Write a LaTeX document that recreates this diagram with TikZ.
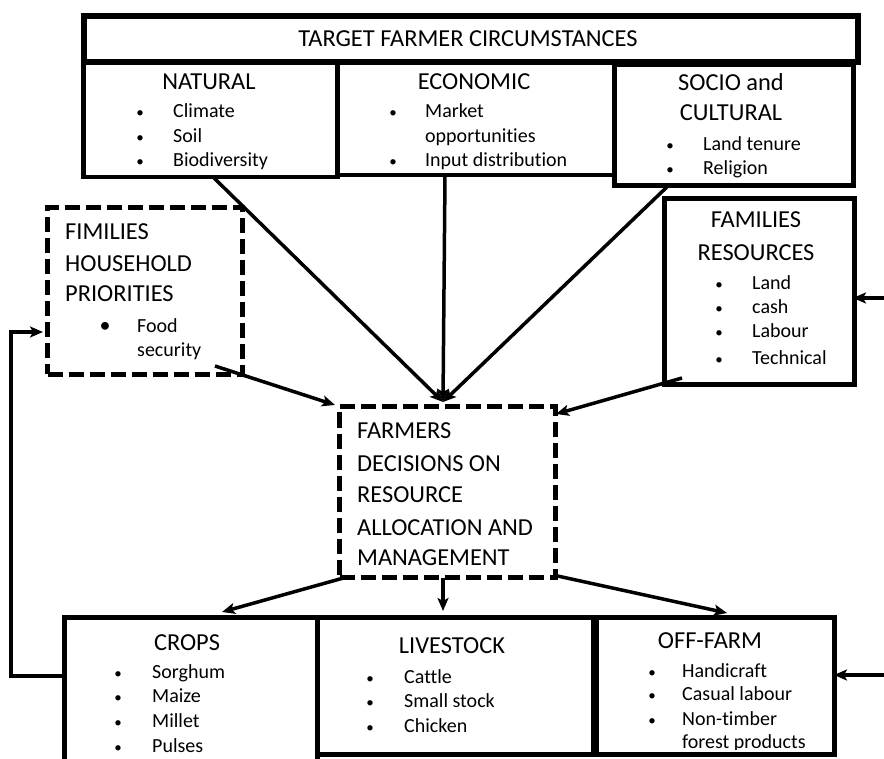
\documentclass[tikz,border=0pt]{standalone}
\usepackage{fontspec}
\setmainfont{Carlito}[Ligatures=NoCommon]
\usetikzlibrary{arrows.meta}
\newcommand\headfont{\fontsize{24.4}{28}\selectfont}
\newcommand\bodyfont{\fontsize{20}{24}\selectfont}
\tikzset{
  solidbox/.style={draw, line width=4.5pt, inner sep=0pt, anchor=north west},
  dashbox/.style={draw, line width=5pt, dash pattern=on 15pt off 6pt, inner sep=0pt, anchor=north west},
  conn/.style={line width=3.5pt, -{Stealth[length=13pt,width=11pt,inset=3pt]}},
  hd/.style={font=\headfont, inner sep=0pt, anchor=base},
  hdl/.style={font=\headfont, inner sep=0pt, anchor=base west},
  itm/.style={font=\bodyfont, inner sep=0pt, anchor=base west},
  bul/.style={font=\fontsize{15}{18}\selectfont, inner sep=0pt, anchor=base},
}
\begin{document}
\begin{tikzpicture}[x=1pt,y=-1pt]
\useasboundingbox (0,0) rectangle (884,759);

% ---------- texts ----------
\node[hd] (tTitle) at (468,47) {TARGET FARMER CIRCUMSTANCES};

\begin{scope}
\clip (83,61) rectangle (333,172.8);
\node[hd] (tNat) at (209,90) {NATURAL};
\node[bul] (bN1) at (140,118) {\textbullet};
\node[itm] (iN1) at (173,118) {Climate};
\node[bul] (bN2) at (140,142.5) {\textbullet};
\node[itm] (iN2) at (173,142.5) {Soil};
\node[bul] (bN3) at (140,167) {\textbullet};
\node[itm] (iN3) at (173,167) {Biodiversity};
\end{scope}

\node[hd] (tEco) at (474,90) {ECONOMIC};
\node[bul] (bE1) at (393,118) {\textbullet};
\node[itm] (iE1) at (425,118) {Market};
\node[itm] (iE1b) at (425,142.5) {opportunities};
\node[bul] (bE2) at (393,167) {\textbullet};
\node[itm] (iE2) at (425,167) {Input distribution};

\begin{scope}
\clip (614,64) rectangle (849,180.5);
\node[hd] (tSoc) at (731,91) {SOCIO and};
\node[hd] (tSoc2) at (731,121) {CULTURAL};
\node[bul] (bS1) at (670,151) {\textbullet};
\node[itm] (iS1) at (703,151) {Land tenure};
\node[bul] (bS2) at (670,175) {\textbullet};
\node[itm] (iS2) at (703,175) {Religion};
\end{scope}

\node[hdl] (tFim1) at (65,240) {FIMILIES};
\node[hdl] (tFim2) at (65,272) {HOUSEHOLD};
\node[hdl] (tFim3) at (65,302) {PRIORITIES};
\node[font=\fontsize{22}{26}\selectfont, inner sep=0pt, anchor=base] (bF1) at (105,333) {\textbullet};
\node[itm] (iF1) at (137,333) {Food};
\node[itm] (iF1b) at (137,357) {security};

\node[hd] (tRes1) at (756,228) {FAMILIES};
\node[hd] (tRes2) at (756,261) {RESOURCES};
\node[bul] (bR1) at (719,290) {\textbullet};
\node[itm] (iR1) at (752,290) {Land};
\node[bul] (bR2) at (719,313.5) {\textbullet};
\node[itm] (iR2) at (752,313.5) {cash};
\node[bul] (bR3) at (719,338) {\textbullet};
\node[itm] (iR3) at (752,338) {Labour};
\node[bul] (bR4) at (719,365) {\textbullet};
\node[itm] (iR4) at (752,365) {Technical};

\node[hdl] (tDec1) at (357,438) {FARMERS};
\node[hdl] (tDec2) at (357,471) {DECISIONS ON};
\node[hdl] (tDec3) at (357,502) {RESOURCE};
\node[hdl] (tDec4) at (357,535) {ALLOCATION AND};
\node[hdl] (tDec5) at (357,565) {MANAGEMENT};

\node[hd] (tCrop) at (187,650) {CROPS};
\node[bul] (bC1) at (118,678) {\textbullet};
\node[itm] (iC1) at (152,678) {Sorghum};
\node[bul] (bC2) at (118,702) {\textbullet};
\node[itm] (iC2) at (152,702) {Maize};
\node[bul] (bC3) at (118,727) {\textbullet};
\node[itm] (iC3) at (152,727) {Millet};
\node[bul] (bC4) at (118,752) {\textbullet};
\node[itm] (iC4) at (152,752) {Pulses};

\node[hd] (tLive) at (452,653) {LIVESTOCK};
\node[bul] (bL1) at (370,683) {\textbullet};
\node[itm] (iL1) at (404,683) {Cattle};
\node[bul] (bL2) at (370,707) {\textbullet};
\node[itm] (iL2) at (404,707) {Small stock};
\node[bul] (bL3) at (370,732) {\textbullet};
\node[itm] (iL3) at (404,732) {Chicken};

\begin{scope}
\clip (596,617) rectangle (829,749.5);
\node[hd] (tOff) at (710,648) {OFF-FARM};
\node[bul] (bO1) at (652,677) {\textbullet};
\node[itm] (iO1) at (682,677) {Handicraft};
\node[bul] (bO2) at (652,700) {\textbullet};
\node[itm] (iO2) at (682,700) {Casual labour};
\node[bul] (bO3) at (652,725) {\textbullet};
\node[itm] (iO3) at (682,725) {Non-timber};
\node[itm] (iO3b) at (682,748) {forest products};
\end{scope}

% ---------- boxes ----------
\node[solidbox, line width=6pt, minimum width=774pt, minimum height=46pt] (title) at (81,13) {};
\node[solidbox, minimum width=254pt, minimum height=116pt] (nat) at (81,59) {};
\node[solidbox, minimum width=277pt, minimum height=114pt] (eco) at (335,59) {};
\node[solidbox, line width=5pt, minimum width=239pt, minimum height=121pt] (soc) at (612,62) {};
\node[dashbox, minimum width=195pt, minimum height=167pt] (fim) at (45,205) {};
\node[solidbox, line width=5pt, minimum width=190pt, minimum height=186pt] (res) at (662,196) {};
\node[dashbox, minimum width=216pt, minimum height=171pt] (dec) at (337,404) {};
\node[solidbox, line width=5pt, minimum width=253pt, minimum height=170pt] (crop) at (62,615) {};
\node[solidbox, minimum width=276pt, minimum height=137pt] (live) at (315,615) {};
\node[solidbox, line width=5pt, minimum width=238pt, minimum height=137pt] (off) at (594,615) {};

% ---------- connector end points ----------
\coordinate (natS) at (213,177);
\coordinate (ecoS) at (445,176);
\coordinate (socS) at (669,185);
\coordinate (fimS) at (215,366);
\coordinate (resS) at (682,378);
\coordinate (decN) at (443,402);
\coordinate (decNL) at (335,405);
\coordinate (decNR) at (556,414);
\coordinate (decSL) at (347,577);
\coordinate (decS) at (443,578);
\coordinate (decSR) at (553,575);
\coordinate (cropN) at (222,612);
\coordinate (liveN) at (443,611);
\coordinate (offN) at (727,613);
\coordinate (resE) at (853,298);
\coordinate (offE) at (834,675);
\coordinate (rightA) at (886,298);
\coordinate (rightB) at (886,675);
\coordinate (cropW) at (62,676);
\coordinate (loopB) at (11,676);
\coordinate (loopT) at (11,332);
\coordinate (fimW) at (43,332);

% ---------- connectors ----------
\draw[conn] (natS) -- (decN);
\draw[conn] (ecoS) -- (decN);
\draw[conn] (socS) -- (decN);
\draw[conn] (fimS) -- (decNL);
\draw[conn] (resS) -- (decNR);
\draw[conn] (decSL) -- (cropN);
\draw[conn] (decS) -- (liveN);
\draw[conn] (decSR) -- (offN);
\draw[conn] (rightA) -- (resE);
\draw[conn] (rightB) -- (offE);
\draw[conn] (cropW) -- (loopB) -- (loopT) -- (fimW);
\end{tikzpicture}
\end{document}
